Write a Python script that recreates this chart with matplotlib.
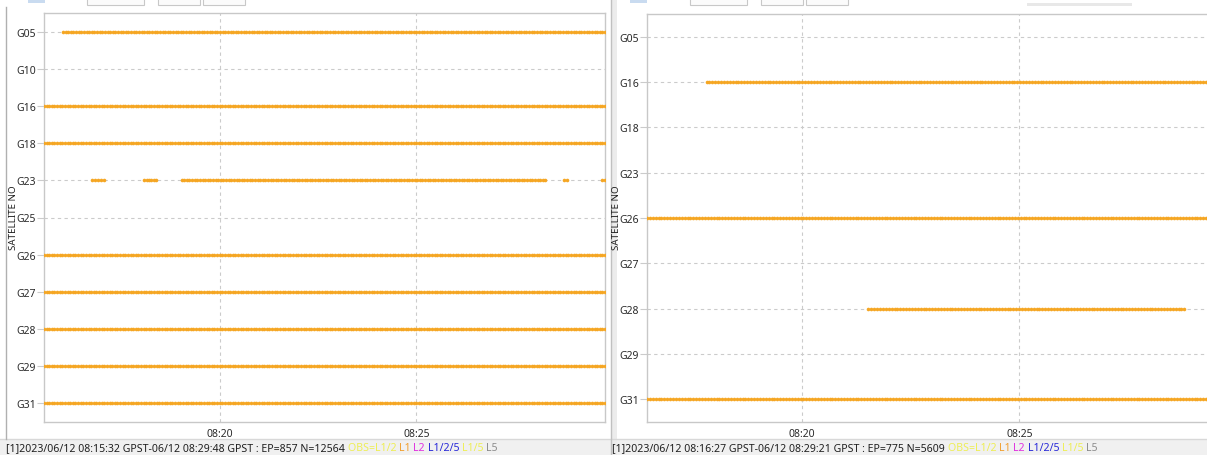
import numpy as np
import matplotlib.pyplot as plt
import matplotlib.dates as mdates
from matplotlib.patches import Rectangle
from datetime import datetime

# Figure size in pixels (screenshot of two RTKPLOT windows)
W, H = 1207, 456
DAY = "2023-06-12 "

# Left window: satellites and visible spans (start, end)
left_sats = ["G05", "G10", "G16", "G18", "G23", "G25", "G26", "G27", "G28", "G29", "G31"]
left_range = ("08:15:32", "08:29:48")
left_spans = {
    "G05": [("08:16:01", "08:29:48")],
    "G16": [("08:15:32", "08:29:48")],
    "G18": [("08:15:32", "08:29:48")],
    "G23": [("08:16:46", "08:17:03"), ("08:18:05", "08:18:23"), ("08:19:02", "08:28:17"),
            ("08:28:46", "08:28:50"), ("08:29:44", "08:29:48")],
    "G26": [("08:15:32", "08:29:48")],
    "G27": [("08:15:32", "08:29:48")],
    "G28": [("08:15:32", "08:29:48")],
    "G29": [("08:15:32", "08:29:48")],
    "G31": [("08:15:32", "08:29:48")],
}
left_status = "[1]2023/06/12 08:15:32 GPST-06/12 08:29:48 GPST : EP=857 N=12564 "

# Right window
right_sats = ["G05", "G16", "G18", "G23", "G26", "G27", "G28", "G29", "G31"]
right_range = ("08:16:27", "08:29:21")
right_spans = {
    "G16": [("08:17:49", "08:29:21")],
    "G26": [("08:16:27", "08:29:21")],
    "G28": [("08:21:32", "08:28:47")],
    "G31": [("08:16:27", "08:29:21")],
}
right_status = "[1]2023/06/12 08:16:27 GPST-06/12 08:29:21 GPST : EP=775 N=5609 "

# Legend part of the status line
legend_items = ["OBS=L1/2", "L1", "L2", "L1/2/5", "L1/5", "L5"]
legend_colors = ["#eeee55", "#f0a030", "#e030e0", "#2828d8", "#eeee55", "#8c8c8c"]

DOT = "#f5a623"
STEP_S = 4  # drawing step between epochs (s)
FONT = "Noto Sans"


def tnum(s):
    return mdates.date2num(datetime.strptime(DAY + s, "%Y-%m-%d %H:%M:%S"))


def px_axes(fig, x0, y0, x1, y1):
    # axes from pixel box (top-left origin)
    return fig.add_axes([x0 / W, (H - y1) / H, (x1 - x0) / W, (y1 - y0) / H])


def draw_panel(ax, sats, xr, spans):
    for i, sat in enumerate(sats):
        for a, b in spans.get(sat, []):
            t0, t1 = tnum(a), tnum(b)
            n = int(round((t1 - t0) * 86400 / STEP_S)) + 1
            x = np.linspace(t0, t1, n)
            ax.plot(x, np.full(n, i), "o", color=DOT, ms=2.6, mew=0, zorder=3)
    ax.set_xlim(tnum(xr[0]), tnum(xr[1]))
    ax.set_ylim(len(sats) - 0.5, -0.5)
    ax.set_yticks(range(len(sats)))
    ax.set_yticklabels(sats)
    ax.xaxis.set_major_locator(mdates.MinuteLocator(byminute=range(0, 60, 5)))
    ax.xaxis.set_major_formatter(mdates.DateFormatter("%H:%M"))
    ax.grid(True, color="#cbcbcb", linestyle=(0, (3, 3)), linewidth=0.8)
    ax.tick_params(axis="y", length=5, color="#cbcbcb", labelsize=7.5, labelcolor="#2a2a2a", pad=1)
    ax.tick_params(axis="x", length=0, labelsize=7.5, labelcolor="#2a2a2a", pad=4)
    for lab in ax.get_yticklabels() + ax.get_xticklabels():
        lab.set_fontfamily(FONT)
    for sp in ax.spines.values():
        sp.set_color("#c8c8c8")
        sp.set_linewidth(1.0)
    ax.set_facecolor("white")


def status_line(fig, renderer, x_px, y_px, text):
    t = fig.text(x_px / W, 1 - y_px / H, text, fontsize=7.6, family=FONT,
                 color="#202020", va="center", ha="left")
    x = t.get_window_extent(renderer).x1
    for item, col in zip(legend_items, legend_colors):
        t = fig.text(x / W, 1 - y_px / H, item + " ", fontsize=7.6, family=FONT,
                     color=col, va="center", ha="left")
        x = t.get_window_extent(renderer).x1


fig = plt.figure(figsize=(W / 100, H / 100), dpi=100)
fig.patch.set_facecolor("white")

# window decorations
bg = fig.add_axes([0, 0, 1, 1])
bg.set_xlim(0, W)
bg.set_ylim(H, 0)
bg.axis("off")
bg.add_patch(Rectangle((0, 440), 611, 16, facecolor="#f0f0f0", edgecolor="none"))
bg.add_patch(Rectangle((612, 440), W - 612, 16, facecolor="#f0f0f0", edgecolor="none"))
bg.plot([0, 611], [440, 440], color="#d8d8d8", lw=1)
bg.plot([612, W], [440, 440], color="#d8d8d8", lw=1)
bg.plot([6, 6], [8, 440], color="#b0b0b0", lw=1)
bg.add_patch(Rectangle((611, 0), 6, 456, facecolor="#ececec", edgecolor="none"))
bg.plot([611, 611], [0, 456], color="#c0c0c0", lw=1)
for x0, x1 in [(87, 144), (158, 200), (203, 245), (690, 747), (761, 803), (806, 848)]:
    bg.add_patch(Rectangle((x0, -4), x1 - x0, 10, facecolor="#fbfbfb",
                           edgecolor="#c8c8c8", lw=0.8))
bg.add_patch(Rectangle((28, 0), 17, 4, facecolor="#c9dbf0", edgecolor="none"))
bg.add_patch(Rectangle((630, 0), 17, 4, facecolor="#c9dbf0", edgecolor="none"))
bg.add_patch(Rectangle((1027, 4), 105, 3, facecolor="#e8e8e8", edgecolor="none"))

ax1 = px_axes(fig, 44, 14, 605, 423)
draw_panel(ax1, left_sats, left_range, left_spans)
ax2 = px_axes(fig, 647, 15, 1209, 423)
draw_panel(ax2, right_sats, right_range, right_spans)

fig.text(14 / W, 1 - 218 / H, "SATELLITE NO", rotation=90, fontsize=7, family=FONT,
         color="#202020", ha="center", va="center")
fig.text(617 / W, 1 - 218 / H, "SATELLITE NO", rotation=90, fontsize=7, family=FONT,
         color="#202020", ha="center", va="center")

renderer = fig.canvas.get_renderer()
status_line(fig, renderer, 6, 449, left_status)
status_line(fig, renderer, 612, 449, right_status)

fig.savefig("out.png", dpi=100, facecolor="white")
